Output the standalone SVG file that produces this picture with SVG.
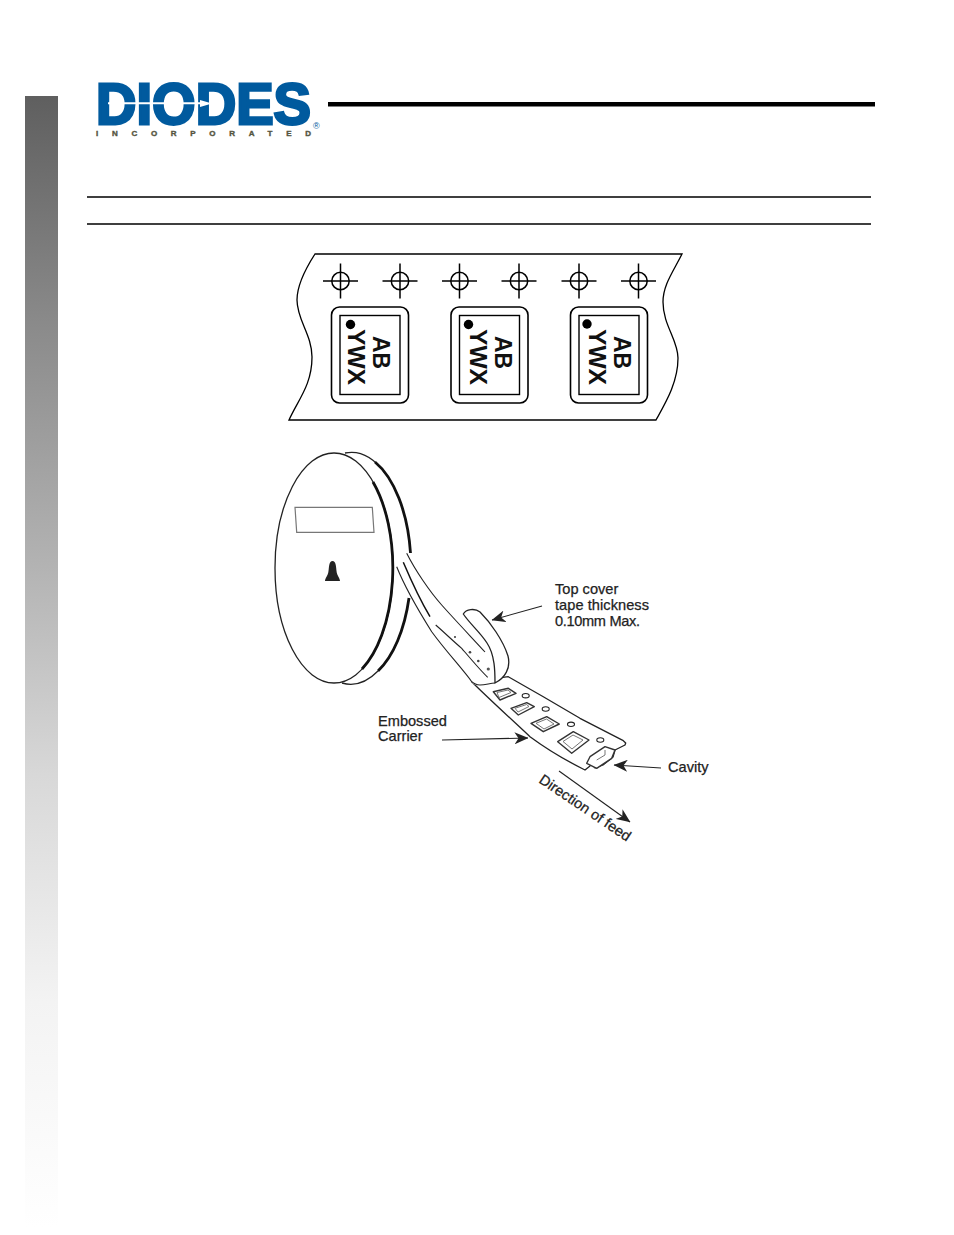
<svg xmlns="http://www.w3.org/2000/svg" width="954" height="1235" viewBox="0 0 954 1235">
<defs>
<linearGradient id="side" x1="0" y1="0" x2="0" y2="1"><stop offset="0" stop-color="#5f5f5f"/><stop offset="0.2" stop-color="#8a8a8a"/><stop offset="0.4" stop-color="#b0b0b0"/><stop offset="0.6" stop-color="#d8d8d8"/><stop offset="0.8" stop-color="#f3f3f3"/><stop offset="1" stop-color="#ffffff"/></linearGradient>
<marker id="arr" viewBox="0 0 14 12" refX="13.500" refY="6" markerWidth="14" markerHeight="12" markerUnits="userSpaceOnUse" orient="auto"><path d="M0 0L14 6L0 12L4 6Z" fill="#222"/></marker>
<g id="reg"><circle r="8.700" fill="none" stroke="#000" stroke-width="1.500"/><path d="M-17.500 0H17.500M0-17.500V17.500" stroke="#000" stroke-width="1.500"/></g>
<g id="chip"><rect x="0" y="0" width="77" height="96" rx="8" fill="none" stroke="#000" stroke-width="1.600"/><rect x="8.500" y="8.500" width="60" height="79" fill="none" stroke="#000" stroke-width="1.400"/></g>
</defs>
<style>
.m{font:bold 24.500px "Liberation Sans",Arial,sans-serif;fill:#111}
.l{font:14.600px "Liberation Sans",Arial,sans-serif;fill:#222;stroke:#222;stroke-width:.25}
.o{fill:#fff;stroke:#222;stroke-width:1.300;stroke-linejoin:round}
.c{fill:none;stroke:#222;stroke-width:1.100}
.p{fill:#fff;stroke:#333;stroke-width:1.400;stroke-linejoin:round}
.n{fill:none;stroke:#666;stroke-width:.9;stroke-linejoin:round}
.k{fill:none;stroke:#111;stroke-width:2.800}
</style>
<rect id="sidebar" x="25" y="96" width="33" height="1132" fill="url(#side)"/>
<g id="logo">
<text x="96" y="124" font-family="Liberation Sans,Arial,sans-serif" font-weight="bold" font-size="57" fill="#005a9e" stroke="#005a9e" stroke-width="2.800" textLength="215" lengthAdjust="spacingAndGlyphs">DIODES</text>
<path d="M108 102.300H200V100L212 103.500L200 107V104.300H108Z" fill="#fff"/>
<text x="96" y="135.500" font-family="Liberation Sans,Arial,sans-serif" font-weight="bold" font-size="8" fill="#55553f" stroke="#55553f" stroke-width=".4" textLength="215" lengthAdjust="spacing">INCORPORATED</text>
<text x="313" y="129" font-family="Liberation Sans,Arial,sans-serif" font-size="9" fill="#005a9e">®</text>
</g>
<rect x="328" y="102" width="547" height="4.500" fill="#000"/>
<path d="M87 197H871M87 224H871" stroke="#000" stroke-width="1.400"/>
<g id="tape">
<path d="M315 254H682C673 272 663 285 663 302C663 325 678 340 678 358C678 382 666 402 656 420H289C298 400 312 385 312 357C312 335 297 320 297 300C297 285 306 268 315 254Z" fill="#fff" stroke="#000" stroke-width="1.300"/>
<use href="#reg" x="340.500" y="281"/><use href="#reg" x="400" y="281"/><use href="#reg" x="459.500" y="281"/><use href="#reg" x="519" y="281"/><use href="#reg" x="579" y="281"/><use href="#reg" x="638.500" y="281"/>
<use href="#chip" x="331.500" y="307"/><use href="#chip" x="451" y="307"/><use href="#chip" x="570.500" y="307"/>
<circle cx="350.500" cy="324.500" r="4.700"/><circle cx="468.500" cy="324.500" r="4.700"/><circle cx="587" cy="324" r="4.700"/>
<text class="m" transform="translate(373 336) rotate(90)" textLength="33" lengthAdjust="spacingAndGlyphs">AB</text>
<text class="m" transform="translate(348 329) rotate(90)" textLength="56" lengthAdjust="spacingAndGlyphs">YWX</text>
<text class="m" transform="translate(494.500 336) rotate(90)" textLength="33" lengthAdjust="spacingAndGlyphs">AB</text>
<text class="m" transform="translate(469.500 329) rotate(90)" textLength="56" lengthAdjust="spacingAndGlyphs">YWX</text>
<text class="m" transform="translate(613.500 336) rotate(90)" textLength="33" lengthAdjust="spacingAndGlyphs">AB</text>
<text class="m" transform="translate(588.500 329) rotate(90)" textLength="56" lengthAdjust="spacingAndGlyphs">YWX</text>
</g>
<g id="reel">
<path d="M345 453A59 115 0 0 1 385 473" fill="none" stroke="#222" stroke-width="1.300"/>
<path d="M375 462A59 115 0 0 1 410.500 553" class="k"/>
<path d="M409 598A59 115 0 0 1 378 671" class="k"/>
<path d="M378 671A59 115 0 0 1 342 683" fill="none" stroke="#222" stroke-width="1.300"/>
<ellipse cx="334" cy="568" rx="59" ry="115" fill="#fff" stroke="#222" stroke-width="1.300"/>
<path d="M373 482A59 115 0 0 1 362 669" class="k"/>
<path d="M295 507.300H372.300L374 532.300H296.700Z" fill="#fff" stroke="#777" stroke-width="1.200"/>
<path d="M332.500 561C336 561 336 567 336.500 571C337 576 340 578 340 581H325C325 578 328 576 328.500 571C329 567 329 561 332.500 561Z" fill="#222"/>
</g>
<g id="carrier">
<path d="M471.700 681.700C485 695 510 718 530 736.700C548 750 565 760 585 770L590 766L591.700 763.300L595 768L603 765L613 757L615 750L625 745L625.700 743L623.300 740.700L580 718.300L543.300 696.700L508.300 676.700Z" class="o"/>
<path d="M493.300 691.700L508.300 688.300L516 693.300L500 700Z" class="p"/><path d="M497 692.500L508 690L511 692.500L499 697.500Z" class="n"/>
<path d="M511 708.300L526.700 702.700L534.300 706.700L518.300 715Z" class="p"/><path d="M515 708.300L526.500 704.500L529 706.500L518 712Z" class="n"/>
<path d="M531 723.300L546.700 716.700L559.300 724L543.300 731.700Z" class="p"/><path d="M536 723.300L546.500 719L554 724L544 729Z" class="n"/>
<path d="M557.700 741.700L573.300 731.700L589 740L571.700 753.300Z" class="p"/><path d="M563 741.500L573 735L583 740L572 749Z" class="n"/>
<ellipse cx="525.700" cy="695.700" rx="3.500" ry="2.200" class="c"/><ellipse cx="545.700" cy="709" rx="3.500" ry="2.200" class="c"/><ellipse cx="571" cy="724.300" rx="3.500" ry="2.200" class="c"/><ellipse cx="600.300" cy="740" rx="3.500" ry="2.200" class="c"/>
<path d="M590 756.700L605 746.700L615 750L611.700 758.300L596.700 768.300L586.700 763.300Z" class="p"/>
<path d="M605 750L605 755L596.700 760" class="n"/>
</g>
<g id="band">
<path d="M406.700 553.300C415 570 430 592 441.700 605C455 620 475 641 485 652L497 683L480 685C475 685 472 684 471.700 681.700C465 672 445 650 431.700 631.700C415 605 402 580 396.700 566.700Z" class="o" style="stroke:none"/>
<path d="M406.700 553.300C415 570 430 592 441.700 605C455 620 475 641 485 652" class="c"/>
<path d="M396.700 566.700C402 580 415 605 431.700 631.700C445 650 465 672 471.700 681.700C474 684 477 685 480 685C486 685 490 683 495 683" class="c"/>
<path d="M403.300 562.300C410 578 420 600 430 616.700" fill="none" stroke="#111" stroke-width="1.500"/>
<path d="M435.700 625C445 633 453 641 461.700 648.300C470 658 480 670 487.700 677.300" class="c"/>
<circle cx="455" cy="637" r=".9" fill="#222"/><circle cx="470" cy="652.300" r="1.300" fill="#444"/><circle cx="478.300" cy="661" r="1.300" fill="#444"/><circle cx="488.300" cy="669" r="1.600" fill="#555"/>
<path d="M463.300 614C466 609 475 608 480 612C490 622 503 640 508 656C511 668 505 678 495 683C495 672 495 655 487 643C480 632 470 624 463.300 614Z" class="o"/>
</g>
<g id="labels">
<text class="l" x="555" y="594">Top cover</text><text class="l" x="555" y="610" textLength="94">tape thickness</text><text class="l" x="555" y="626" textLength="85">0.10mm Max.</text>
<text class="l" x="378" y="726">Embossed</text><text class="l" x="378" y="741">Carrier</text>
<text class="l" x="668" y="772">Cavity</text>
<text class="l" transform="translate(538 782) rotate(34)" textLength="107">Direction of feed</text>
</g>
<g id="connectors">
<path d="M542 606L492 620" class="c" marker-end="url(#arr)"/>
<path d="M442 740L528 738" class="c" marker-end="url(#arr)"/>
<path d="M661 768L614 765" class="c" marker-end="url(#arr)"/>
<path d="M559 771L630 822" class="c" marker-end="url(#arr)"/>
</g>
</svg>
